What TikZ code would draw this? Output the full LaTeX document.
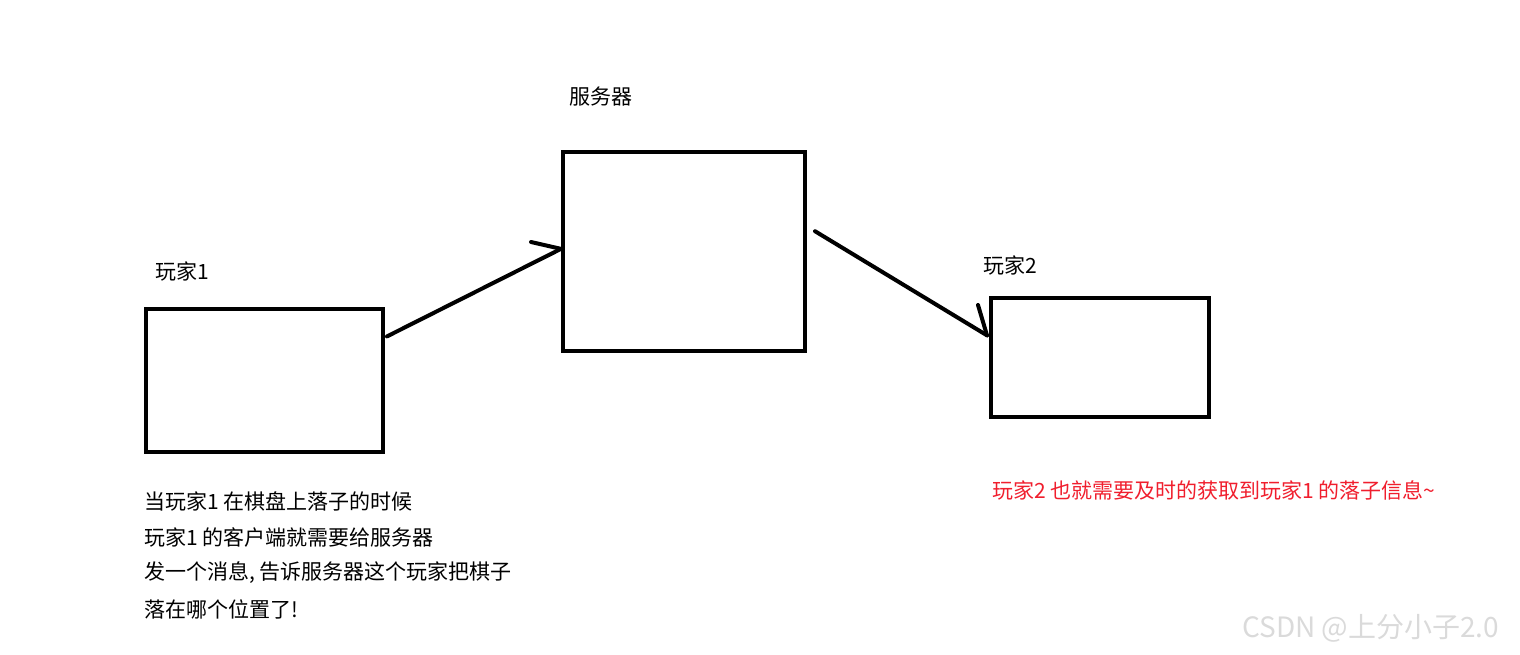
\documentclass[tikz,border=0pt]{standalone}
\usepackage{fontspec}
\setmainfont{Noto Sans CJK SC}
\usetikzlibrary{calc}
\definecolor{redtxt}{RGB}{240,30,45}
\definecolor{wmark}{RGB}{218,218,218}
\tikzset{
  box/.style={draw=black, line width=4pt, minimum width=#1, inner sep=0pt},
  conn/.style={line width=4pt, line cap=round, line join=round},
  lbl/.style={anchor=west, inner sep=0pt, font=\fontsize{21}{25}\selectfont},
}
\begin{document}
\begin{tikzpicture}[x=1pt,y=-1pt]
\useasboundingbox (0,0) rectangle (1520,654);
% boxes
\node[box=237pt, minimum height=143pt] (p1) at (264.5,380.5) {};
\node[box=242pt, minimum height=199pt] (srv) at (684,251.5) {};
\node[box=218pt, minimum height=119pt] (p2) at (1100,357.5) {};
% labels
\node[lbl] (lsrv) at (569,97) {服务器};
\node[lbl] (lp1) at (155,271) {玩家1};
\node[lbl] (lp2) at (983,265) {玩家2};
% arrows
\coordinate (a1s) at ($(p1.north east)!0.2!(p1.south east)+(2,0)$);
\coordinate (a1e) at ($(srv.north west)!0.487!(srv.south west)$);
\coordinate (b1) at (531,242);
\draw[conn] (a1s) -- (a1e);
\draw[conn] (b1) -- (a1e);
\coordinate (a2s) at ($(srv.north east)!0.4!(srv.south east)+(8,0)$);
\coordinate (a2e) at ($(p2.north west)!0.32!(p2.south west)+(-2,0)$);
\coordinate (b2) at (978,305);
\draw[conn] (a2s) -- (a2e);
\draw[conn] (b2) -- (a2e);
% description texts
\node[lbl] (t1) at (144,501) {当玩家1 在棋盘上落子的时候};
\node[lbl] (t2) at (144,537) {玩家1 的客户端就需要给服务器};
\node[lbl] (t3) at (144,573) {发一个消息, 告诉服务器这个玩家把棋子};
\node[lbl] (t4) at (144,609) {落在哪个位置了!};
\node[lbl, text=redtxt] (t5) at (992,490) {玩家2 也就需要及时的获取到玩家1 的落子信息\textasciitilde};
% watermark
\node[lbl, text=wmark, font=\fontsize{28}{32}\selectfont] (wm) at (1242,628) {CSDN @上分小子2.0};
\end{tikzpicture}
\end{document}
